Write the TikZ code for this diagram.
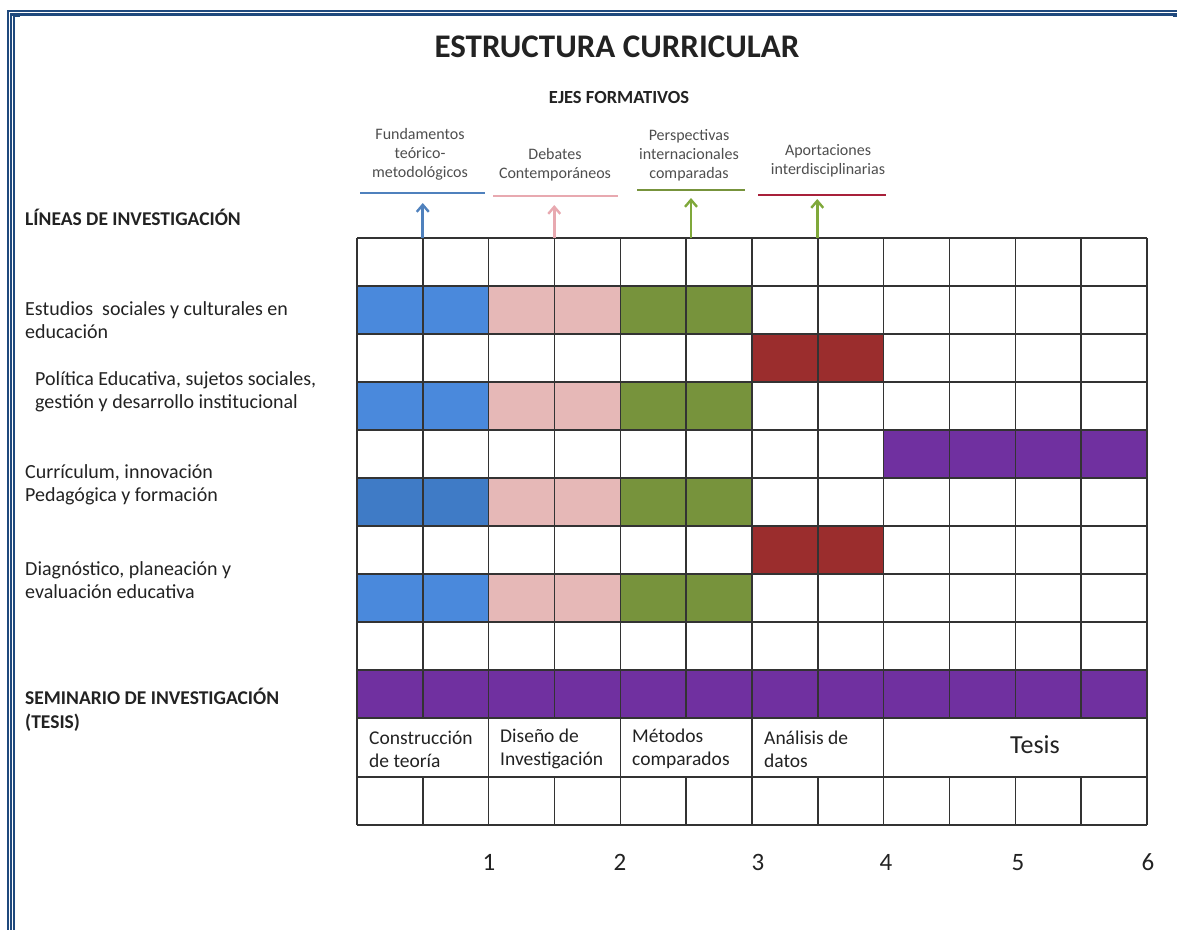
\documentclass[tikz,border=0pt]{standalone}
\usepackage{fontspec}
\setmainfont{Carlito}
\usetikzlibrary{arrows.meta}
\definecolor{bordblue}{HTML}{1F497D}
\definecolor{cblue}{HTML}{4A89DC}
\definecolor{cbluedk}{HTML}{3F7BC6}
\definecolor{cpink}{HTML}{E6B8B7}
\definecolor{cgreen}{HTML}{77933C}
\definecolor{cred}{HTML}{9B2D2D}
\definecolor{cpurple}{HTML}{7030A0}
\definecolor{lblue}{HTML}{4F81BD}
\definecolor{lpink}{HTML}{E8A9B0}
\definecolor{lgreen}{HTML}{77933C}
\definecolor{lred}{HTML}{A8203A}
\definecolor{agreen}{HTML}{7FA83A}
\definecolor{txt}{HTML}{222222}
\definecolor{gridc}{HTML}{333333}
\newcommand\cellfill[4]{\fill[#4] ({357+#1*65.75},{238+#2*48}) rectangle ({357+(#1+#3)*65.75},{238+(#2+1)*48});}
\begin{document}
\begin{tikzpicture}[x=1pt,y=-1pt,
  gridline/.style={draw=gridc,line width=1.6pt},
  axisline/.style={line width=2.6pt},
  axarrow/.style={line width=2.6pt,-{Straight Barb[length=7pt,width=12pt,line width=2.4pt]}},
  axlabel/.style={font=\fontsize{16}{19}\selectfont,text=txt!80,align=center,inner sep=0pt},
  leftlabel/.style={font=\fontsize{20}{23.5}\selectfont,text=txt,align=left,anchor=west,inner sep=0pt},
  leftbold/.style={leftlabel,font=\fontsize{19.5}{23.5}\selectfont\bfseries},
  celllabel/.style={font=\fontsize{19.5}{23}\selectfont,text=txt,align=left,anchor=west,inner sep=0pt},
  numlabel/.style={font=\fontsize{25}{25}\selectfont,text=txt,inner sep=0pt,anchor=base}
]
\useasboundingbox (0,0) rectangle (1177,930);
% page border
\fill[bordblue] (7,10) rectangle (9,930);
\fill[bordblue] (10,13) rectangle (12,930);
\fill[bordblue] (13,15) rectangle (15,930);
\fill[bordblue] (7,10) rectangle (1177,12);
\fill[bordblue] (10,13) rectangle (1177,16);
\fill[bordblue] (13,15) rectangle (20,17);
\fill[bordblue] (1173,15) rectangle (1177,17);

% titles
\node[font=\fontsize{33}{33}\selectfont\bfseries,text=txt,inner sep=0pt] (title) at (617,47) {ESTRUCTURA CURRICULAR};
\node[font=\fontsize{18.5}{18.5}\selectfont\bfseries,text=txt,inner sep=0pt] (ejes) at (619,97) {EJES FORMATIVOS};

% axis labels
\node[axlabel] (fund) at (420,154) {Fundamentos\\teórico-\\metodológicos};
\node[axlabel] (deb) at (555,165) {Debates\\Contemporáneos};
\node[axlabel] (persp) at (689,155) {Perspectivas\\internacionales\\comparadas};
\node[axlabel] (aport) at (828,161) {Aportaciones\\interdisciplinarias};

% axis lines
\draw[axisline,lblue] (360,193) coordinate (fundL) -- (485,193) coordinate (fundR);
\draw[axisline,lpink] (493,196) coordinate (debL) -- (618,196) coordinate (debR);
\draw[axisline,lgreen] (637,190) coordinate (perL) -- (745,190) coordinate (perR);
\draw[axisline,lred] (758,195) coordinate (apoL) -- (886,195) coordinate (apoR);

% colored cells
\foreach \j in {1,3,7}{
  \cellfill{0}{\j}{2}{cblue}
  \cellfill{2}{\j}{2}{cpink}
  \cellfill{4}{\j}{2}{cgreen}
}
\cellfill{0}{5}{2}{cbluedk}
\cellfill{2}{5}{2}{cpink}
\cellfill{4}{5}{2}{cgreen}
\cellfill{6}{2}{2}{cred}
\cellfill{6}{6}{2}{cred}
\cellfill{8}{4}{4}{cpurple}
\cellfill{0}{9}{12}{cpurple}

% grid lines
\foreach \j in {0,...,10}{
  \draw[gridline] (357,{238+\j*48}) -- (1147,{238+\j*48});
}
\draw[gridline] (357,777) -- (1147,777);
\draw[gridline] (357,825) -- (1147,825);
\foreach \i in {0,...,12}{
  \draw[gridline] ({357+\i*65.83},238) -- ({357+\i*65.83},718);
  \draw[gridline] ({357+\i*65.83},777) -- ({357+\i*65.83},825);
}
\foreach \i in {0,2,4,6,8,12}{
  \draw[gridline] ({357+\i*65.83},718) -- ({357+\i*65.83},777);
}

% arrows from grid to axis lines
\coordinate (fundA) at (422.75,238);
\coordinate (debA) at (554.25,238);
\coordinate (perA) at (691,238);
\coordinate (apoA) at (817.25,238);
\draw[axarrow,lblue] (fundA) -- (422.75,203);
\draw[axarrow,lpink] (debA) -- (554.25,205);
\draw[axarrow,agreen] (perA) -- (691,198);
\draw[axarrow,agreen] (apoA) -- (817.25,199);

% left labels
\node[leftbold] (lineas) at (25,217) {LÍNEAS DE INVESTIGACIÓN};
\node[leftlabel] (l1) at (25,320) {Estudios\ \ sociales y culturales en\\educación};
\node[leftlabel] (l2) at (35,392) {Política Educativa, sujetos sociales,\\gestión y desarrollo institucional};
\node[leftlabel] (l3) at (25,485) {Currículum, innovación\\Pedagógica y formación};
\node[leftlabel] (l4) at (25,580) {Diagnóstico, planeación y\\evaluación educativa};
\node[leftbold] (sem) at (25,710) {SEMINARIO DE INVESTIGACIÓN\\(TESIS)};

% phase labels in grid
\node[celllabel] (c1) at (369,749) {Construcción\\de teoría};
\node[celllabel] (c2) at (500,749) {Diseño de\\Investigación};
\node[celllabel] (c3) at (632,749) {Métodos\\comparados};
\node[celllabel] (c4) at (764,749) {Análisis de\\datos};
\node[font=\fontsize{26}{26}\selectfont,text=txt,inner sep=0pt] (c5) at (1035,745) {Tesis};

% year numbers
\node[numlabel] (n1) at (489,870) {1};
\node[numlabel] (n2) at (620,870) {2};
\node[numlabel] (n3) at (758,870) {3};
\node[numlabel] (n4) at (886,870) {4};
\node[numlabel] (n5) at (1018,870) {5};
\node[numlabel] (n6) at (1148,870) {6};
\end{tikzpicture}
\end{document}
